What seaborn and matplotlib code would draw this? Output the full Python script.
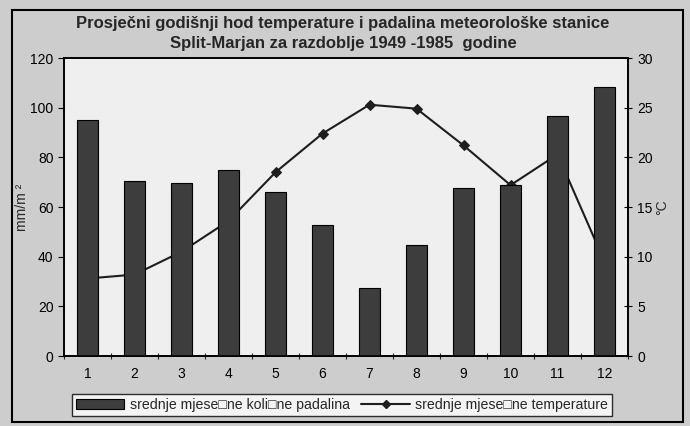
import seaborn as sns
import pandas as pd
import matplotlib.pyplot as plt
from matplotlib.patches import Rectangle
from matplotlib.lines import Line2D

sns.set_style("ticks")
plt.rcParams['font.family'] = ['Liberation Sans', 'DejaVu Sans']

months = ['1', '2', '3', '4', '5', '6', '7', '8', '9', '10', '11', '12']
padaline = [95, 70.6, 69.8, 75, 66.2, 52.8, 27.3, 44.7, 67.5, 69, 96.8, 108.5]
temperature = [7.8, 8.2, 10.5, 13.6, 18.5, 22.4, 25.3, 24.9, 21.2, 17.2, 20.3, 9.5]

df = pd.DataFrame({'mjesec': months, 'padaline': padaline, 'temp': temperature})

fig = plt.figure(figsize=(6.9, 4.26), dpi=100, facecolor='#cdcdcd')
ax = fig.add_axes([0.0928, 0.1643, 0.8174, 0.6995])
ax2 = ax.twinx()

# line sits behind the bars, as in the original
ax.set_zorder(ax2.get_zorder() + 1)
ax.patch.set_visible(False)
ax2.patch.set_facecolor('#efefef')
ax2.patch.set_visible(True)

sns.barplot(data=df, x='mjesec', y='padaline', ax=ax, color='#3d3d3d',
            edgecolor='black', linewidth=0.8, width=0.44, saturation=1)
sns.lineplot(x=list(range(12)), y=df['temp'], ax=ax2, color='#1e1e1e',
             marker='D', markersize=5, linewidth=1.5, markeredgecolor='#1e1e1e')

ax.set_xlim(-0.5, 11.5)
ax.set_ylim(0, 120)
ax.set_yticks(range(0, 121, 20))
ax.set_xticks([i - 0.5 for i in range(13)], minor=True)
ax2.set_ylim(0, 30)
ax2.set_yticks(range(0, 31, 5))

ax.set_xlabel('')
ax.set_ylabel('mm/m ²', fontsize=10, labelpad=1)
ax2.set_ylabel('°C', fontsize=10, labelpad=2)

for a in (ax, ax2):
    for s in a.spines.values():
        s.set_color('black')
        s.set_linewidth(1.2)
    a.tick_params(labelsize=10, colors='black', length=4, width=0.8)
ax.tick_params(axis='x', which='major', length=0, pad=8)
ax.tick_params(axis='x', which='minor', length=5, width=0.8, direction='inout')
ax2.tick_params(axis='y', direction='inout', length=6)

fig.text(0.497, 0.946, 'Prosječni godišnji hod temperature i padalina meteorološke stanice',
         ha='center', va='center', fontsize=12, fontweight='bold')
fig.text(0.497, 0.898, 'Split-Marjan za razdoblje 1949 -1985  godine',
         ha='center', va='center', fontsize=12, fontweight='bold')

handles = [Rectangle((0, 0), 1, 1, facecolor='#3d3d3d', edgecolor='black', linewidth=0.8),
           Line2D([], [], color='#1e1e1e', marker='D', markersize=4, linewidth=1.5)]
labels = ['srednje mjese\u25a1ne koli\u25a1ne padalina', 'srednje mjese\u25a1ne temperature']
leg = fig.legend(handles, labels, loc='center', bbox_to_anchor=(0.496, 0.049), ncol=2,
                 fontsize=10.2, frameon=True, fancybox=False, edgecolor='black',
                 handlelength=3.4, handletextpad=0.4, columnspacing=0.8,
                 borderpad=0.3)
leg.get_frame().set_facecolor('white')
leg.get_frame().set_linewidth(1.0)

fig.patches.append(Rectangle((0.017, 0.01), 0.973, 0.966, transform=fig.transFigure,
                             fill=False, edgecolor='black', linewidth=1.5))

fig.savefig('out.png', dpi=100, facecolor=fig.get_facecolor())
